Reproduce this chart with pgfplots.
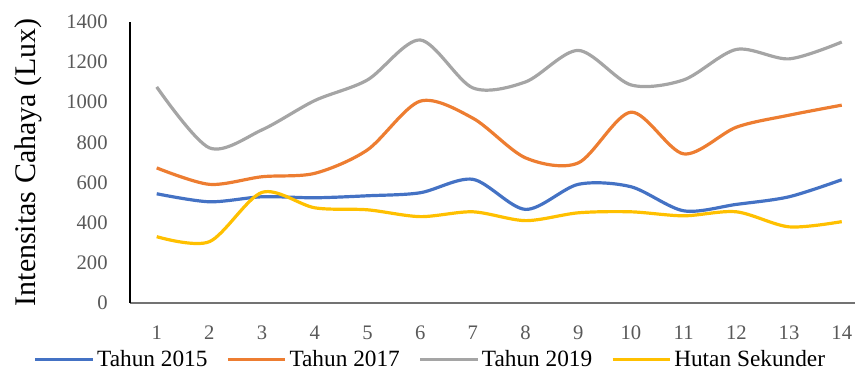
\documentclass[border=0pt]{standalone}
\usepackage{pgfplots}
\pgfplotsset{compat=1.18}
\usepackage{fontspec}
\setmainfont{Liberation Serif}

\definecolor{sBlue}{HTML}{4472C4}
\definecolor{sOrange}{HTML}{ED7D31}
\definecolor{sGray}{HTML}{A5A5A5}
\definecolor{sYellow}{HTML}{FFC000}
\definecolor{tickGray}{HTML}{595959}

\begin{document}
\begin{tikzpicture}
\begin{axis}[
  scale only axis,
  width=544.5pt, height=210.75pt,
  xmin=0.49, xmax=14.25,
  ymin=0, ymax=1400,
  xtick={1,...,14},
  ytick={0,200,...,1400},
  axis x line*=bottom,
  axis y line*=left,
  x axis line style={draw=black!55, line width=1.6pt, -},
  y axis line style={draw=black, line width=1.1pt, -},
  major tick length=0pt,
  tick style={draw=none},
  /pgf/number format/assume math mode=true,
  /pgf/number format/set thousands separator={},
  ticklabel style={font=\rmfamily\fontsize{15.5}{15.5}\selectfont, text=tickGray},
  yticklabel style={inner sep=0pt, anchor=east, xshift=-16.5pt},
  xticklabel style={inner sep=0pt, anchor=base, yshift=-28pt},
  ylabel={Intensitas Cahaya (Lux)},
  ylabel style={at={(axis description cs:-0.1405,0.5)}, anchor=center,
    font=\rmfamily\fontsize{22.5}{22.5}\selectfont},
  legend columns=4,
  legend style={at={(axis description cs:0.415,-0.203)}, anchor=center,
    draw=none, fill=none, font=\rmfamily\fontsize{17.5}{17.5}\selectfont,
    inner sep=0pt,
    /tikz/every odd column/.append style={column sep=0pt},
    /tikz/every even column/.append style={column sep=12pt},
    nodes={inner xsep=2pt, inner ysep=2pt}},
  legend image code/.code={\draw[#1, line width=2.6pt] (0pt,0pt) -- (43pt,0pt);},
  every axis plot/.append style={smooth, tension=0.5, line width=2.4pt, mark=none},
  clip=false,
]
\addplot[sBlue] coordinates {
  (1,543) (2,503) (3,528) (4,523) (5,533) (6,548) (7,615)
  (8,465) (9,590) (10,578) (11,458) (12,490) (13,528) (14,613)};
\addlegendentry{Tahun 2015}
\addplot[sOrange] coordinates {
  (1,672) (2,590) (3,628) (4,645) (5,762) (6,1005) (7,920)
  (8,722) (9,697) (10,950) (11,742) (12,875) (13,935) (14,985)};
\addlegendentry{Tahun 2017}
\addplot[sGray] coordinates {
  (1,1076) (2,772) (3,862) (4,1008) (5,1111) (6,1310) (7,1071)
  (8,1101) (9,1258) (10,1086) (11,1111) (12,1263) (13,1216) (14,1300)};
\addlegendentry{Tahun 2019}
\addplot[sYellow] coordinates {
  (1,329) (2,304) (3,550) (4,473) (5,463) (6,429) (7,453)
  (8,409) (9,448) (10,453) (11,433) (12,453) (13,378) (14,404)};
\addlegendentry{Hutan Sekunder}
\end{axis}
\path[use as bounding box] (-97.5pt,-50.25pt) rectangle (544.5pt,227.25pt);
\end{tikzpicture}
\end{document}
